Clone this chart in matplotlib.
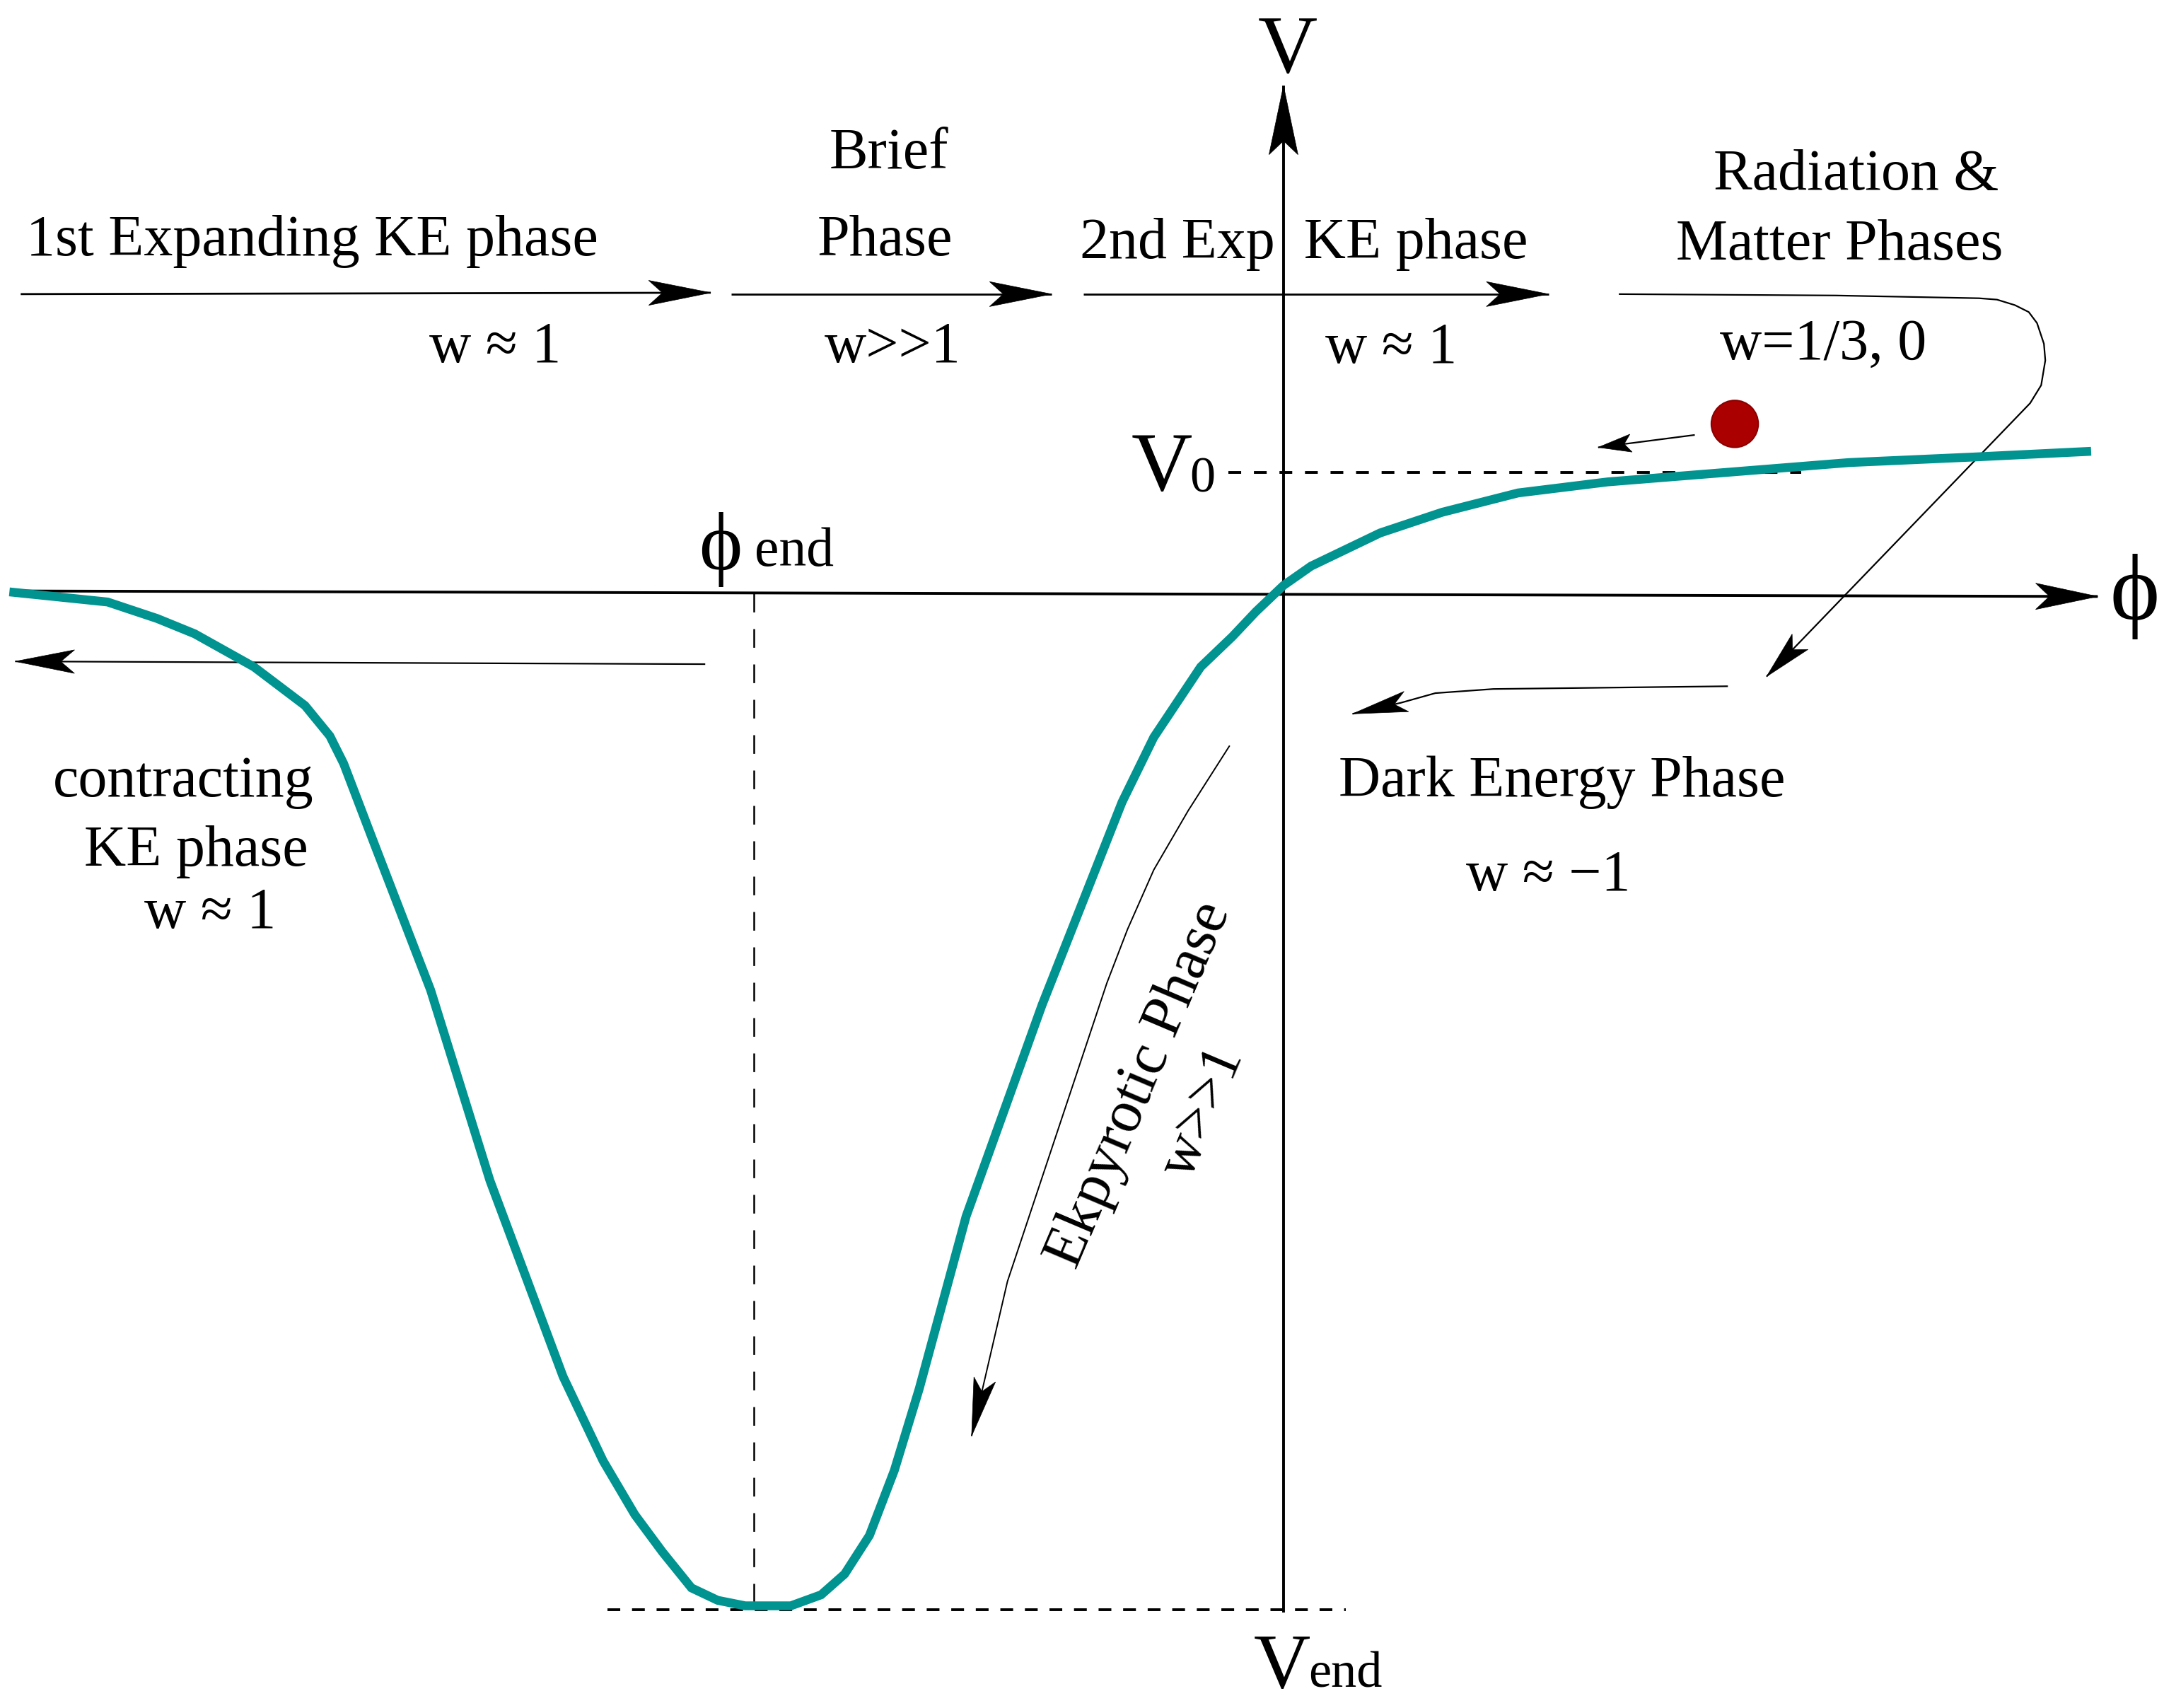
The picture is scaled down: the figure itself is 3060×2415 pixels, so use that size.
import numpy as np
import matplotlib
matplotlib.use("Agg")
import matplotlib.pyplot as plt
from matplotlib.patches import Polygon, Circle

# potential V(phi) (canvas units, y grows downward)
curve_x = [10, 78, 114, 141, 184, 221, 239, 249, 270, 312, 355, 408, 437, 460,
           480, 501, 520, 540, 560, 573, 595, 612, 630, 648, 666, 700, 755, 813,
           836, 870, 893, 910, 930, 950, 1000, 1045, 1100, 1165, 1240, 1340,
           1430, 1512]
curve_y = [429, 436, 448, 459, 483, 511, 533, 553, 608, 717, 855, 997, 1058, 1097,
           1124, 1150, 1159, 1163, 1163, 1163, 1155, 1140, 1112, 1065, 1006, 881,
           728, 581, 534, 483, 461, 443, 424, 410, 386, 371, 357, 349, 343, 335,
           331, 327]

# axes and reference levels
phi_axis_x = [10, 1520]
phi_axis_y = [428, 432]
v_axis_x = [930, 930]
v_axis_y = [1168, 62]
v0_level = 342
v0_span = [890, 1305]
vend_level = 1166
vend_span = [440, 975]
phi_end = 546
phi_end_span = [430, 1172]

# phase arrows
top_arrows = [([15, 515], [213, 212]),
              ([530, 762], [213, 213]),
              ([785, 1122], [213, 213])]
loop_x = [1173, 1330, 1434, 1447, 1460, 1470, 1476, 1481, 1482, 1479, 1471, 1280]
loop_y = [213, 214, 216, 217, 221, 226, 234, 249, 261, 279, 292, 490]
ball_arrow_x = [1228, 1158]
ball_arrow_y = [315, 324]
contract_x = [511, 11]
contract_y = [481, 479]
dark_x = [1252, 1082, 1040, 1015, 980]
dark_y = [497, 499, 502, 509, 517]
ekp_x = [891, 861, 836, 817, 802, 730, 704]
ekp_y = [540, 587, 630, 673, 712, 928, 1040]
ball = (1257, 307)

teal = "#009390"
serif = ["Liberation Serif", "DejaVu Serif"]
plt.rcParams["font.family"] = serif
plt.rcParams["lines.scale_dashes"] = False


def head(ax, xs, ys, length, half, notch):
    # stealth style arrow head on the last segment of a path
    tip = np.array([xs[-1], ys[-1]], float)
    d = tip - np.array([xs[-2], ys[-2]], float)
    d /= np.hypot(*d)
    n = np.array([-d[1], d[0]])
    base = tip - d * length
    pts = [tip, base + n * half, tip - d * (length - notch), base - n * half]
    ax.add_patch(Polygon(pts, closed=True, fc="k", ec="k", lw=0.5, zorder=4))


def arrow(ax, xs, ys, lw, length, half, notch):
    ax.plot(xs, ys, color="k", lw=lw, solid_capstyle="butt", zorder=3)
    head(ax, xs, ys, length, half, notch)


fig = plt.figure(figsize=(30.6, 24.15), dpi=100)
ax = fig.add_axes([0, 0, 1, 1])
ax.set_xlim(0, 1568)
ax.set_ylim(1237, 0)
ax.axis("off")

# axes
arrow(ax, phi_axis_x, phi_axis_y, 2.8, 45, 9.5, 10)
arrow(ax, v_axis_x, v_axis_y, 2.8, 50, 10.5, 10)

# dashed guides
ax.plot(v0_span, [v0_level, v0_level], color="k", lw=2.8, dashes=(13, 13))
ax.plot(vend_span, [vend_level, vend_level], color="k", lw=2.8, dashes=(13, 12))
ax.plot([phi_end, phi_end], phi_end_span, color="k", lw=1.8, dashes=(19, 17))

# potential
ax.plot(curve_x, curve_y, color=teal, lw=9, solid_joinstyle="miter", zorder=5)

# arrows
for xs, ys in top_arrows:
    arrow(ax, xs, ys, 2.0, 45, 9, 10)
arrow(ax, loop_x, loop_y, 1.6, 35, 8, 8)
arrow(ax, ball_arrow_x, ball_arrow_y, 1.6, 24, 6.5, 5)
arrow(ax, contract_x, contract_y, 1.6, 43, 8.5, 10)
arrow(ax, dark_x, dark_y, 1.6, 40, 7.5, 9)
arrow(ax, ekp_x, ekp_y, 1.4, 42, 8, 9)

ax.add_patch(Circle(ball, 17, fc="#aa0000", ec="#8a0000", lw=1.5, zorder=6))

fs = 59
kw = dict(ha="center", va="baseline", fontsize=fs)
ax.text(226, 185, "1st Expanding KE phase", **kw)
ax.text(359, 262, "w ≈ 1", **kw)
ax.text(644, 122, "Brief", **kw)
ax.text(641, 185, "Phase", **kw)
ax.text(647, 262, "w>>1", **kw)
ax.text(945, 187, "2nd Exp  KE phase", **kw)
ax.text(1008, 263, "w ≈ 1", **kw)
ax.text(1345, 137, "Radiation &", **kw)
ax.text(1333, 188, "Matter Phases", **kw)
ax.text(1321, 260, "w=1/3, 0", **kw)
ax.text(1132, 577, "Dark Energy Phase", **kw)
ax.text(1122, 645, "w ≈ \u22121", **kw)
ax.text(133, 577, "contracting", **kw)
ax.text(142, 627, "KE phase", **kw)
ax.text(152, 672, "w ≈ 1", **kw)

ax.text(826, 786, "Ekpyrotic Phase", ha="center", va="center", fontsize=61,
        rotation=67, rotation_mode="anchor")
ax.text(872, 806, "w>>1", ha="center", va="center", fontsize=fs,
        rotation=67, rotation_mode="anchor")

# axis symbols
ax.text(933, 52, "V", ha="center", va="baseline", fontsize=84)
ax.text(1547, 432, "\u03d5", ha="center", va="center", fontsize=96)
ax.text(842, 355, "V", ha="center", va="baseline", fontsize=86)
ax.text(862, 356, "0", ha="left", va="baseline", fontsize=52)
ax.text(522, 398, "\u03d5", ha="center", va="center", fontsize=84)
ax.text(547, 410, "end", ha="left", va="baseline", fontsize=56)
ax.text(929, 1222, "V", ha="center", va="baseline", fontsize=80)
ax.text(948, 1222, "end", ha="left", va="baseline", fontsize=52)

fig.savefig("out.png", dpi=100)
